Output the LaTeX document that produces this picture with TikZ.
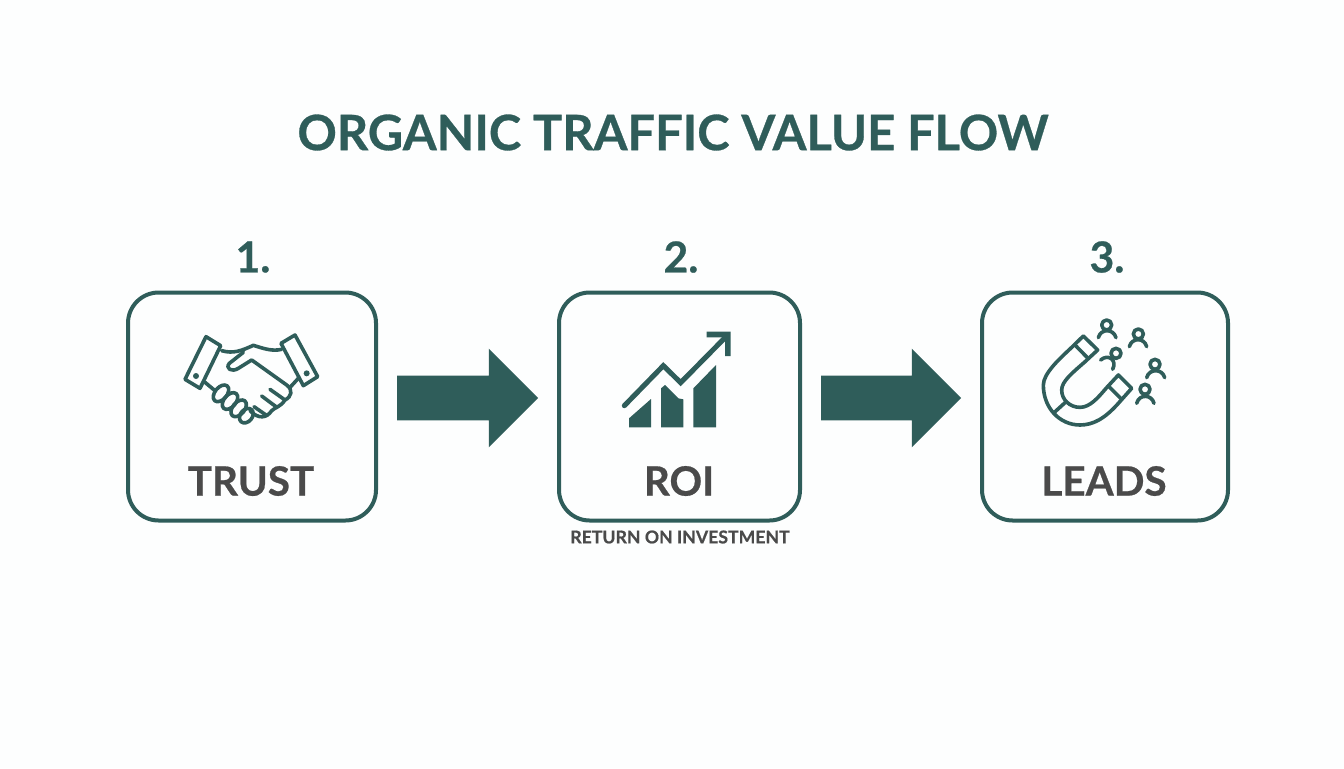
\documentclass[tikz,border=0pt]{standalone}
\usepackage{fontspec}
\setmainfont{Lato}[BoldFeatures={FakeBold=0.6}]
\usetikzlibrary{shapes.arrows}
\definecolor{flow_teal}{RGB}{47, 93, 90}
\definecolor{flow_grey}{RGB}{74, 74, 74}
\definecolor{flow_bg}{RGB}{253, 254, 254}
\tikzstyle{bx}=[rectangle,rounded corners=23pt,draw=flow_teal,line width=3pt,
  minimum height=171pt]
\tikzstyle{arw}=[single arrow,fill=flow_teal,inner xsep=0pt,inner ysep=16.5pt,
  single arrow head extend=20.25pt,single arrow head indent=0pt,shape border rotate=0]
\tikzstyle{ttl}=[text=flow_teal,font=\fontsize{36.6}{40}\selectfont\bfseries,inner sep=0pt]
\tikzstyle{num}=[text=flow_teal,font=\fontsize{32}{34}\selectfont\bfseries,inner sep=0pt]
\tikzstyle{lbl}=[text=flow_grey,font=\fontsize{30.3}{32}\selectfont\bfseries,inner sep=0pt]
\tikzstyle{sub}=[text=flow_grey,font=\fontsize{13.25}{15}\selectfont\bfseries,inner sep=0pt]
\tikzstyle{ic}=[draw=flow_teal,line width=2.7pt,line cap=round,line join=round]

\begin{document}
\begin{tikzpicture}[x=0.75pt,y=-0.75pt]
		\useasboundingbox (0,0) rectangle (1344,768);
		\fill [flow_bg] (0,0) rectangle (1344,768);
		\node [style=ttl] (title) at (673, 132.5) {ORGANIC TRAFFIC VALUE FLOW};
		\node [style=num] (n1) at (253, 257) {1.};
		\node [style=num] (n2) at (681, 257) {2.};
		\node [style=num] (n3) at (1107, 257) {3.};
		\node [style=bx, minimum width=186pt] (trust) at (252, 406.5) {};
		\node [style=bx, minimum width=180.75pt] (roi) at (679.5, 406.5) {};
		\node [style=bx, minimum width=184.5pt] (leads) at (1105, 406.5) {};
		\node [style=arw, minimum height=105.75pt] (a1) at (456.5, 398) {};
		\node [style=arw, minimum height=105pt] (a2) at (880, 398) {};
		\node [style=lbl] (l1) at (251, 481) {TRUST};
		\node [style=lbl] (l2) at (679, 481) {ROI};
		\node [style=lbl] (l3) at (1104, 481) {LEADS};
		\node [style=sub] (s2) at (680, 537) {RETURN ON INVESTMENT};

		% handshake
		\begin{scope}[shift={(170,320)},x=0.25pt,y=-0.25pt]
			\draw [style=ic] (108,50) -- (152,77) -- (90,205) -- (45,178) -- cycle;
			\draw [style=ic] (333,70) -- (375,45) -- (443,170) -- (400,197) -- cycle;
			\fill [flow_teal] (78,168) circle (9);
			\fill [flow_teal] (410,160) circle (9);
			\draw [style=ic] (155,92) .. controls (190,102) and (215,92) .. (250,76) .. controls (280,85) and (305,95) .. (335,88);
			\draw [style=ic] (220,97) -- (178,130) .. controls (165,145) and (185,158) .. (205,145) -- (245,120) -- (350,195) .. controls (370,210) and (365,230) .. (345,240) .. controls (330,262) and (315,262) .. (305,272) .. controls (290,295) and (265,298) .. (240,272);
			\draw [style=ic] (385,175) -- (362,200);
			\draw [style=ic] (105,187) -- (135,212);
			\draw [style=ic] (300,208) -- (345,240);
			\draw [style=ic] (275,228) -- (318,260);
			\draw [style=ic] (252,260) -- (288,285);
			\draw [style=ic] (153,220) ellipse [x radius=29, y radius=18, rotate=50];
			\draw [style=ic] (180,243) ellipse [x radius=29, y radius=18, rotate=50];
			\draw [style=ic] (206,265) ellipse [x radius=29, y radius=18, rotate=50];
			\draw [style=ic] (229,287) ellipse [x radius=24, y radius=18, rotate=50];
		\end{scope}

		% chart
		\begin{scope}[shift={(610,320)},x=0.25pt,y=-0.25pt]
			\draw [style=ic, line width=3.8pt, line cap=round, line join=miter] (43,257) -- (160,137) -- (212,188) -- (350,48);
			\fill [flow_teal] (290,35) -- (362,35) -- (362,108) -- (345,108) -- (345,52) -- (290,52) -- cycle;
			\fill [flow_teal] (57,322) -- (57,295) -- (123,237) -- (123,322) -- cycle;
			\fill [flow_teal] (153,322) -- (153,205) -- (165,195) -- (205,235) -- (220,238) -- (220,322) -- cycle;
			\fill [flow_teal] (250,322) -- (250,205) -- (318,135) -- (318,322) -- cycle;
		\end{scope}

		% magnet and people
		\begin{scope}[shift={(1030,310)},x=0.25pt,y=-0.25pt]
			\draw [style=ic] (122,115) -- (160,78) -- (203,120) -- (163,157) .. controls (125,190) and (95,215) .. (95,240) .. controls (95,270) and (120,292) .. (150,292) .. controls (180,292) and (205,262) .. (228,235) -- (265,195) -- (305,235) -- (265,280) .. controls (225,325) and (190,345) .. (150,345) .. controls (90,345) and (40,295) .. (40,225) .. controls (40,190) and (90,145) .. (122,115);
			\draw [style=ic] (135,105) -- (175,146);
			\draw [style=ic] (235,228) -- (275,268);
			\draw [style=ic] (72,308) -- (105,278);
			\draw [style=ic] (230,45) circle (15);
			\draw [style=ic] (205,83) .. controls (212,55) and (250,55) .. (258,83);
			\draw [style=ic] (325,72) circle (15);
			\draw [style=ic] (298,110) .. controls (305,82) and (343,82) .. (350,110);
			\draw [style=ic] (375,163) circle (15);
			\draw [style=ic] (350,203) .. controls (357,175) and (397,175) .. (404,203);
			\draw [style=ic] (345,238) circle (15);
			\draw [style=ic] (320,280) .. controls (327,252) and (365,252) .. (372,280);
			\draw [style=ic] (258,130) circle (15);
			\draw [style=ic] (212,150) .. controls (235,130) and (262,150) .. (248,178);
		\end{scope}
\end{tikzpicture}
\end{document}
